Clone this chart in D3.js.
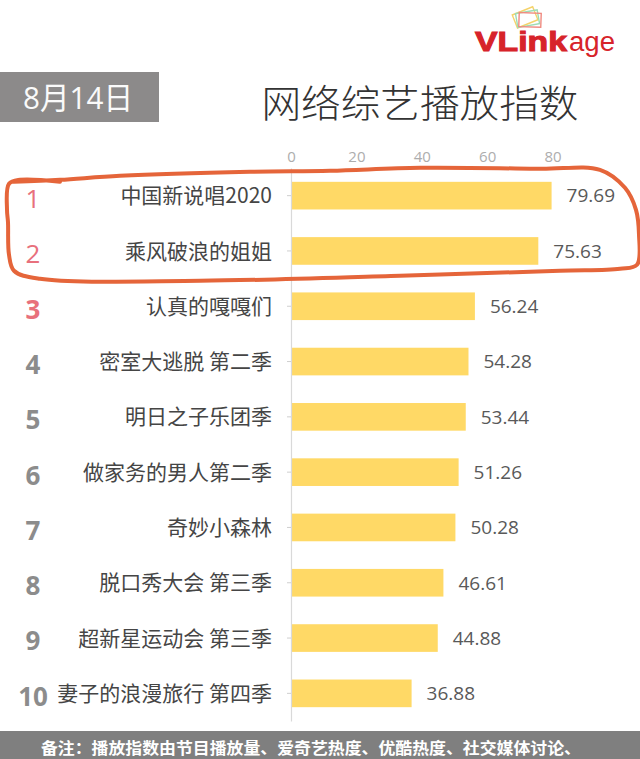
<!DOCTYPE html>
<html>
<head>
<meta charset="utf-8">
<script src="https://cdn.jsdelivr.net/npm/d3@7"></script>
<style>
  html, body { margin: 0; padding: 0; background: #fff; }
  svg { display: block; }
</style>
</head>
<body>
<svg id="chart" width="640" height="759"></svg>
<script>
const ranks = ["1","2","3","4","5","6","7","8","9","10"];
const categories = ["中国新说唱2020","乘风破浪的姐姐","认真的嘎嘎们","密室大逃脱 第二季","明日之子乐团季","做家务的男人第二季","奇妙小森林","脱口秀大会 第三季","超新星运动会 第三季","妻子的浪漫旅行 第四季"];
const values = [79.69, 75.63, 56.24, 54.28, 53.44, 51.26, 50.28, 46.61, 44.88, 36.88];
const xTicks = [0, 20, 40, 60, 80];
const titleText = "网络综艺播放指数";
const dateText = "8月14日";
const noteText = "备注：播放指数由节目播放量、爱奇艺热度、优酷热度、社交媒体讨论、";

const CJK = '"Noto Sans CJK SC", "Noto Sans", sans-serif';
const LAT = '"Open Sans", "Noto Sans", "Noto Sans CJK SC", sans-serif';

const svg = d3.select("#chart");
const W = 640, H = 759;

const x = d3.scaleLinear().domain([0, 100]).range([291, 618]);
const y = d3.scaleBand().domain(categories).range([168, 721]).paddingInner(0.5).paddingOuter(0.25);

// Logo
const logo = svg.append("g");
const icon = logo.append("g").attr("transform", "translate(526,17)");
[["#f5d36a", -22], ["#9fdcb5", -10], ["#f08a80", 2]].forEach(([c, r], i) => {
  icon.append("rect").attr("x", -12).attr("y", -7).attr("width", 22).attr("height", 14)
    .attr("fill", "none").attr("stroke", c).attr("stroke-width", 1.4)
    .attr("transform", `translate(${i*2.5},${i*1.5}) rotate(${r})`);
});
logo.append("text").attr("x", 475).attr("y", 51).attr("fill", "#d7232a")
  .style("font-family", '"Liberation Sans", Arial, sans-serif').attr("font-weight", 700)
  .attr("font-size", 27).attr("textLength", 92).attr("lengthAdjust", "spacingAndGlyphs")
  .attr("stroke", "#d7232a").attr("stroke-width", 1).text("VLink");
logo.append("text").attr("x", 569).attr("y", 51).attr("fill", "#d7232a")
  .style("font-family", '"Liberation Sans", Arial, sans-serif').attr("font-weight", 400)
  .attr("font-size", 27).attr("textLength", 46).attr("lengthAdjust", "spacingAndGlyphs").text("age");

// Date box
svg.append("rect").attr("x", 0).attr("y", 72).attr("width", 159).attr("height", 50).attr("fill", "#8c8a8a");
svg.append("text").attr("x", 78).attr("y", 98).attr("dy", "0.36em").attr("text-anchor", "middle")
  .style("font-family", LAT)
  .attr("fill", "#fafafa").attr("font-size", 31).attr("textLength", 110).attr("lengthAdjust", "spacingAndGlyphs").text(dateText);

// Title
svg.append("text").attr("x", 420).attr("y", 103).attr("dy", "0.36em").attr("text-anchor", "middle")
  .style("font-family", CJK)
  .attr("fill", "#333").attr("font-size", 38).attr("font-weight", 300)
  .attr("textLength", 317).attr("lengthAdjust", "spacingAndGlyphs").text(titleText);

// Top axis
const topAxis = svg.append("g").attr("transform", "translate(0,157)")
  .call(d3.axisTop(x).tickValues(xTicks).tickSize(0).tickPadding(0));
topAxis.select(".domain").remove();
topAxis.selectAll("text").attr("dy", "0.36em").attr("fill", "#adadad").attr("font-size", 15)
  .style("font-family", LAT);

// Bars
svg.append("g").selectAll("rect").data(values).join("rect")
  .attr("x", x(0)).attr("y", (d, i) => y(categories[i]))
  .attr("width", d => x(d) - x(0)).attr("height", y.bandwidth())
  .attr("fill", "#ffd966");

// Left axis
const leftAxis = svg.append("g").attr("transform", `translate(${x(0)},0)`)
  .call(d3.axisLeft(y).tickSizeInner(4).tickSizeOuter(0).tickPadding(15));
leftAxis.select(".domain").attr("stroke", "#d9d9d9").attr("stroke-width", 1.2);
leftAxis.selectAll(".tick line").attr("stroke", "#cfcfcf");
leftAxis.selectAll("text").attr("fill", "#454545").attr("font-size", 21)
  .style("font-family", CJK).attr("dy", "0.36em");

// Value labels
svg.append("g").selectAll("text").data(values).join("text")
  .attr("x", d => x(d) + 15).attr("y", (d, i) => y(categories[i]) + y.bandwidth() / 2)
  .attr("dy", "0.36em").attr("fill", "#595959").attr("font-size", 19)
  .style("font-family", LAT)
  .text(d => d.toFixed(2));

// Rank numbers
svg.append("g").selectAll("text").data(ranks).join("text")
  .attr("x", 33).attr("y", (d, i) => y(categories[i]) + y.bandwidth() / 2 + 3)
  .attr("dy", "0.36em").attr("text-anchor", "middle")
  .attr("fill", (d, i) => i < 3 ? "#e8707c" : "#8c8c8c")
  .attr("font-size", 26).attr("font-weight", (d, i) => i < 2 ? 400 : 700)
  .style("font-family", LAT)
  .text(d => d);

// Orange hand-drawn annotation loop around top 2
const t = y(categories[0]) - 12, b = y(categories[1]) + y.bandwidth() + 10;
const loopPts = [
  [60, t + 12], [20, t + 10], [9, t + 14], [7, t + 40], [8, (t + b) / 2], [9, b - 20], [14, b - 4], [40, b + 4],
  [200, b + 6], [400, b + 1], [560, b - 4], [620, b - 6], [637, b - 10],
  [639, b - 40], [636, t + 40], [625, t + 18], [600, t], [540, t - 1], [420, t - 2], [330, t + 1], [250, t + 2], [120, t + 6], [60, t + 10], [14, t + 12]
];
svg.append("path").datum(loopPts)
  .attr("d", d3.line().curve(d3.curveCatmullRom.alpha(0.5)))
  .attr("fill", "none").attr("stroke", "#e5653a").attr("stroke-width", 4).attr("stroke-linecap", "round");

// Footer
svg.append("rect").attr("x", 0).attr("y", 731).attr("width", W).attr("height", H - 731).attr("fill", "#7f7f7f");
svg.append("text").attr("x", 311).attr("y", 748).attr("dy", "0.36em").attr("text-anchor", "middle")
  .style("font-family", CJK)
  .attr("fill", "#fff").attr("font-size", 16).attr("font-weight", 700)
  .attr("textLength", 540).attr("lengthAdjust", "spacingAndGlyphs").text(noteText);
</script>
</body>
</html>
